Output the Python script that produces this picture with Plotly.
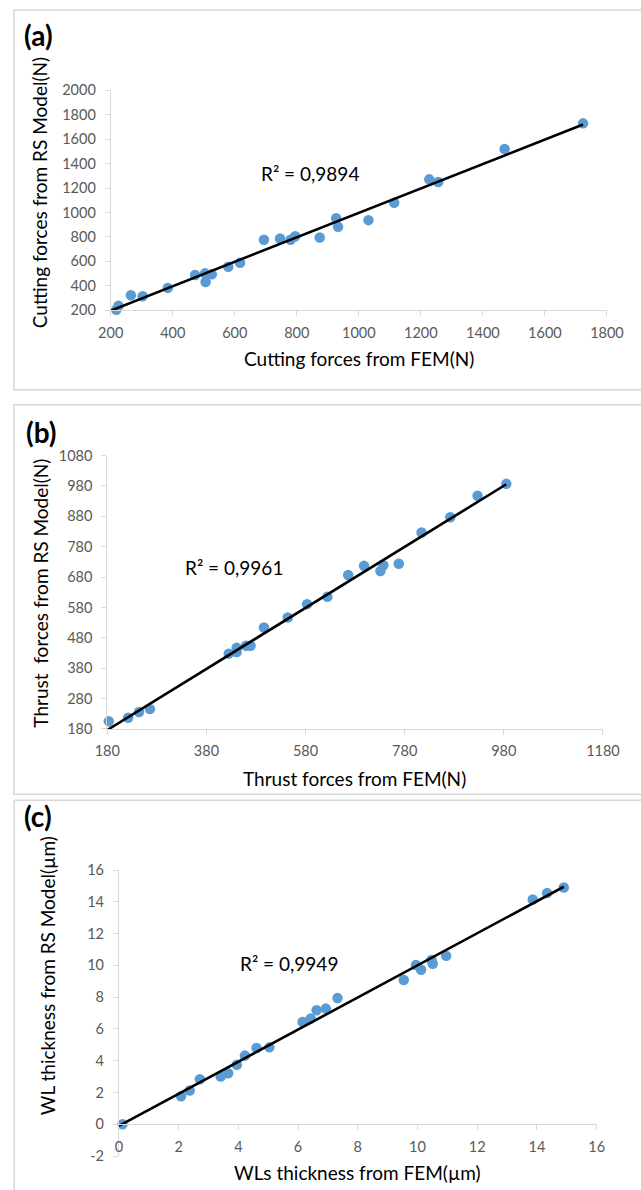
import numpy as np
import plotly.graph_objects as go

# ---------------- data ----------------
# (a) cutting forces
a_fem = [218, 225, 265, 303, 384, 472, 504, 506, 526, 579, 617, 694, 746, 780, 795,
         874, 927, 933, 1031, 1114, 1227, 1256, 1470, 1723]
a_rs = [203, 235, 322, 314, 382, 488, 501, 431, 493, 555, 588, 777, 787, 777, 805,
        795, 952, 882, 937, 1080, 1271, 1250, 1520, 1730]
# (b) thrust forces
b_fem = [183, 188, 222, 244, 266, 425, 441, 441, 460, 469, 496, 544, 583, 624, 666,
         698, 731, 737, 768, 814, 872, 927, 985]
b_rs = [205, 178, 217, 236, 246, 428, 447, 433, 454, 454, 514, 547, 591, 615, 687,
        717, 700, 719, 724, 827, 877, 948, 987]
# (c) white layer thickness
c_fem = [0.12, 2.08, 2.37, 2.71, 3.41, 3.66, 3.95, 4.22, 4.61, 5.04, 6.15, 6.42, 6.62,
         6.93, 7.32, 9.54, 9.95, 10.12, 10.47, 10.51, 10.96, 13.86, 14.34, 14.90]
c_rs = [0.0, 1.76, 2.12, 2.83, 3.0, 3.21, 3.75, 4.32, 4.80, 4.84, 6.44, 6.65, 7.18,
        7.28, 7.94, 9.08, 10.02, 9.73, 10.34, 10.10, 10.60, 14.15, 14.55, 14.90]

# axis ranges
a_xrange = [200, 1800]
a_yrange = [200, 2000]
b_xrange = [180, 1180]
b_yrange = [180, 1080]
c_xrange = [0, 16]
c_yrange = [-2, 16]

r2_labels = ["R² = 0,9894", "R² = 0,9961", "R² = 0,9949"]
panel_labels = ["(a)", "(b)", "(c)"]
x_titles = ["Cutting forces from FEM(N)", "Thrust forces from FEM(N)", "WLs thickness from FEM(µm)"]
y_titles = ["Cutting forces from RS Model(N)", "Thrust  forces from RS Model(N)", "WL thickness from RS Model(µm)"]
c_y_ticks = [-2, 0, 2, 4, 6, 8, 10, 12, 14, 16]
c_y_ticktext = ["-2", "0", "2", "4", "6", "8", "10", "12", "14", "16"]

W, H = 641, 1190
BLUE = "#5B9BD5"
GRID = "#d9d9d9"
TICKC = "#595959"
FONT = "Lato, Carlito, Calibri, sans-serif"

# mapping from target picture pixels to figure pixels (compensates the photo framing)
SX, AX = 0.952, 12.8
SY, AY = 0.987, 6.8

def px(x):
    return ((x - AX) / SX) / W

def py(y):
    return 1 - ((y - AY) / SY) / H

fig = go.Figure()

panels = [
    dict(x=a_fem, y=a_rs, xa="x", ya="y", x0=a_xrange[0]),
    dict(x=b_fem, y=b_rs, xa="x2", ya="y2", x0=b_xrange[0]),
    dict(x=c_fem, y=c_rs, xa="x3", ya="y3", x0=c_xrange[0]),
]
for p in panels:
    fig.add_trace(go.Scatter(x=p["x"], y=p["y"], mode="markers", xaxis=p["xa"], yaxis=p["ya"],
                             marker=dict(color=BLUE, size=10.5, line=dict(width=0)),
                             cliponaxis=False, showlegend=False, hoverinfo="x+y"))
    xs = np.array(p["x"], dtype=float)
    ys = np.array(p["y"], dtype=float)
    k, b = np.polyfit(xs, ys, 1)
    xl = np.array([p["x0"], xs.max()], dtype=float)
    fig.add_trace(go.Scatter(x=xl, y=k * xl + b, mode="lines", xaxis=p["xa"], yaxis=p["ya"],
                             line=dict(color="black", width=2.6), cliponaxis=False,
                             showlegend=False, hoverinfo="skip"))

axis_common = dict(showline=True, linecolor=GRID, linewidth=1, showgrid=False, zeroline=False,
                   ticks="outside", ticklen=5, tickcolor=GRID, tickwidth=1,
                   tickfont=dict(family=FONT, size=14.5, color=TICKC))

fig.update_layout(
    width=W, height=H, margin=dict(l=0, r=0, t=0, b=0),
    paper_bgcolor="white", plot_bgcolor="white",
    font=dict(family=FONT),
    xaxis=dict(domain=[px(110.4), px(606)], range=a_xrange, dtick=200, tick0=200,
               anchor="y", ticklabelstandoff=4, **axis_common),
    yaxis=dict(domain=[py(308.3), py(88.3)], range=a_yrange, dtick=200, tick0=200,
               anchor="x", ticklabelstandoff=6, **axis_common),
    xaxis2=dict(domain=[px(107), px(602)], range=b_xrange, dtick=200, tick0=180,
                anchor="y2", ticklabelstandoff=4, **axis_common),
    yaxis2=dict(domain=[py(727.7), py(454)], range=b_yrange, dtick=100, tick0=180,
                anchor="x2", ticklabelstandoff=6, **axis_common),
    xaxis3=dict(domain=[px(118.6), px(595.7)], range=c_xrange, dtick=2, tick0=0,
                anchor="free", position=py(1123.5), ticklabelstandoff=4, **axis_common),
    yaxis3=dict(domain=[py(1155.3), py(869)], range=c_yrange, tickvals=c_y_ticks,
                ticktext=c_y_ticktext, anchor="x3", ticklabelstandoff=6, **axis_common),
)

# panel borders
for (x0, y0, y1) in [(12, 7, 388), (12, 403, 793), (14, 799, 1300)]:
    fig.add_shape(type="rect", xref="paper", yref="paper", x0=max(px(x0), 1.0 / W), x1=1.1,
                  y0=py(y1), y1=min(py(y0), 1 - 1.0 / H), line=dict(color=GRID, width=1.5),
                  fillcolor="rgba(0,0,0,0)", layer="below")

ann = []
# panel labels
for lab, (cx, cy) in zip(panel_labels, [(38, 33), (41, 430), (38, 815)]):
    ann.append(dict(text=f"<b>{lab}</b>", x=px(cx), y=py(cy), xref="paper", yref="paper",
                    showarrow=False, xanchor="center", yanchor="middle",
                    font=dict(family=FONT, size=28, color="black")))
# axis titles
for t, (cx, cy) in zip(x_titles, [(358, 357), (354, 777), (357, 1172)]):
    ann.append(dict(text=t, x=px(cx), y=py(cy), xref="paper", yref="paper", showarrow=False,
                    xanchor="center", yanchor="middle", font=dict(family=FONT, size=19, color="black")))
for t, (cx, cy) in zip(y_titles, [(40, 191), (40, 592), (48, 975)]):
    ann.append(dict(text=t, x=px(cx), y=py(cy), xref="paper", yref="paper", showarrow=False,
                    textangle=-90, xanchor="center", yanchor="middle",
                    font=dict(family=FONT, size=19, color="black")))
# R² labels
for t, (cx, cy) in zip(r2_labels, [(309, 172), (234, 566), (288, 963)]):
    ann.append(dict(text=t, x=px(cx), y=py(cy), xref="paper", yref="paper", showarrow=False,
                    xanchor="center", yanchor="middle", font=dict(family=FONT, size=19, color="black")))
fig.update_layout(annotations=ann)

fig.write_html("out.html", config={"displayModeBar": False},
               post_script="document.body.style.margin='0';document.body.style.padding='0';")
